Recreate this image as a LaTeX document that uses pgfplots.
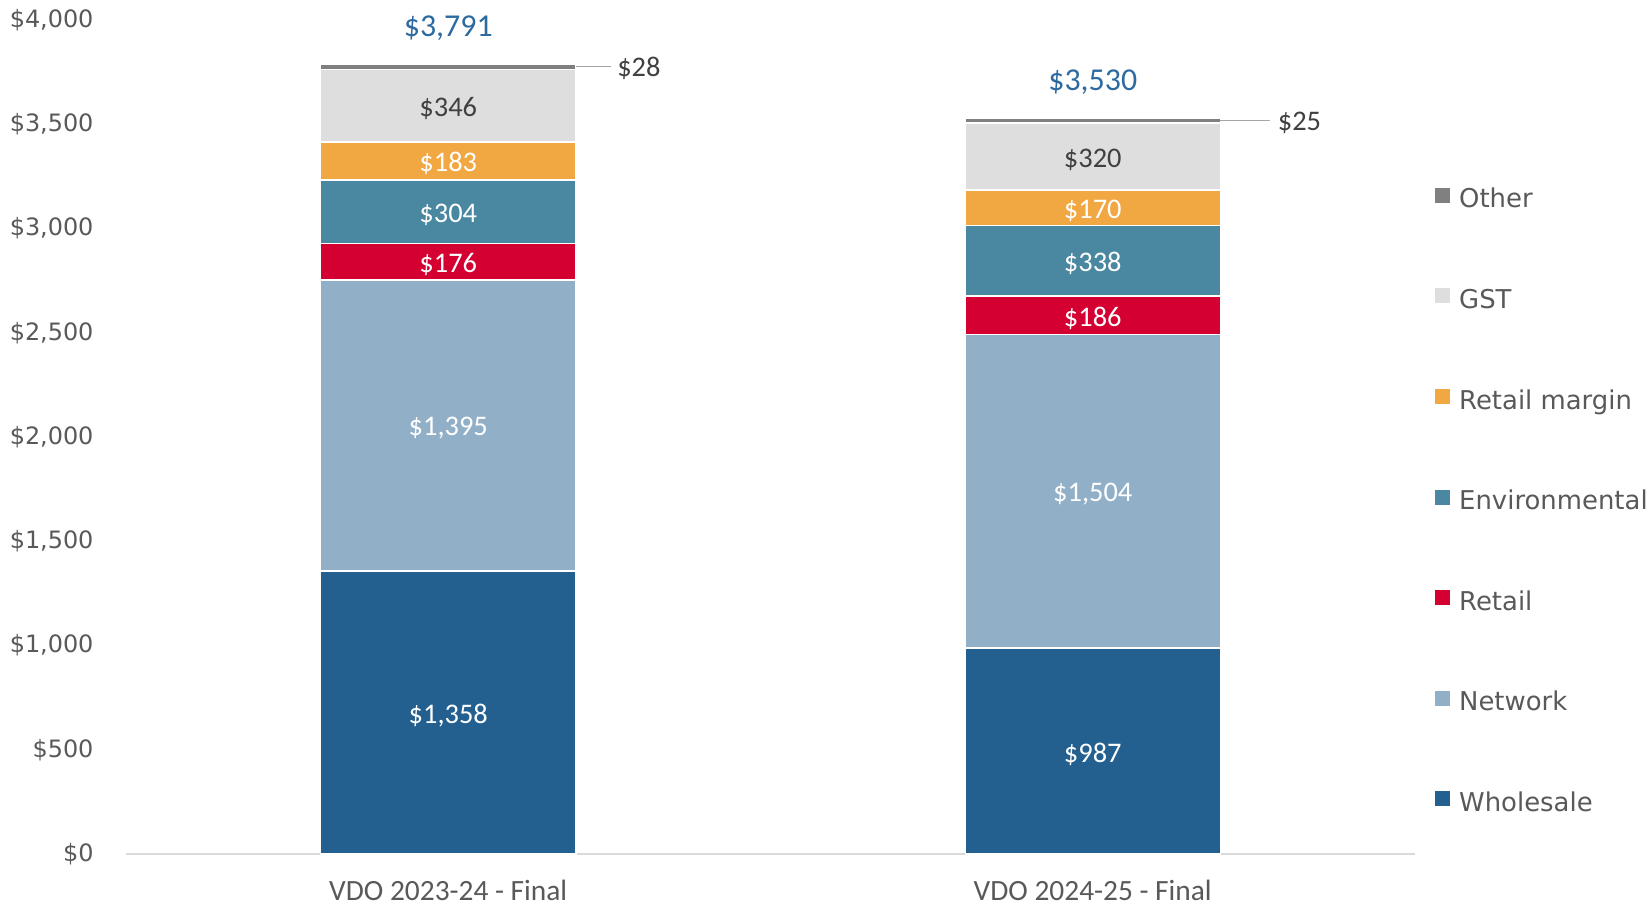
\documentclass[border=0pt]{standalone}
\usepackage{pgfplots}
\usepackage{pgfplotstable}
\pgfplotsset{compat=1.18}
\usepackage{fontspec}
\setmainfont{Carlito}
\newfontfamily\dejavu{DejaVu Sans}
\definecolor{cW}{HTML}{23608F}
\definecolor{cN}{HTML}{92AFC8}
\definecolor{cR}{HTML}{D50032}
\definecolor{cE}{HTML}{4A87A0}
\definecolor{cM}{HTML}{F2A842}
\definecolor{cG}{HTML}{DEDEDE}
\definecolor{cO}{HTML}{808080}
\definecolor{cT}{HTML}{2D6A9F}
\definecolor{txt}{HTML}{595959}
\definecolor{dark}{HTML}{404040}
\pgfplotsset{
  sq/.style={legend image code/.code={\fill[##1,draw=none] (0bp,-2bp) rectangle (15bp,13bp);}},
  common/.style={width=1289bp,height=834bp,scale only axis,xmin=-0.5,xmax=1.5,ymin=0,ymax=4000,enlargelimits=false},
  lbl/.style={draw=none, mark=none, point meta=explicit,
    nodes near coords={\$\pgfmathprintnumber[fixed,precision=0,1000 sep={,},assume math mode=true]{\pgfplotspointmeta}}},
}
\pgfplotstableread{
x W N R E M G O
0 1358 1395 176 304 183 346 28
1 987 1504 186 338 170 320 25
}\costs
\pgfplotstableread{
x y v
0 679 1358
0 2055.5 1395
0 2841 176
0 3081 304
0 3324.5 183
1 493.5 987
1 1739 1504
1 2584 186
1 2846 338
1 3100 170
}\whitelabels
\pgfplotstableread{
x y v
0 3589 346
1 3345 320
}\gstlabels
\pgfplotstableread{
x y v
0.262 3766 28
1.287 3507 25
}\otherlabels
\pgfplotstableread{
x y v
0 3961 3791
1 3700 3530
}\totallabels
\begin{document}
\begin{tikzpicture}
\begin{axis}[common,
  ybar stacked, bar width=255bp,
  axis x line*=bottom, axis y line*=left,
  x axis line style={draw=black!15,line width=1.2bp,-},
  y axis line style={draw=none},
  major tick length=0pt,
  xtick={0,1}, xticklabels={VDO 2023-24 - Final, VDO 2024-25 - Final},
  xticklabel style={font=\fontsize{29.5}{29.5}\selectfont, text=txt, yshift=-23bp},
  ytick={0,500,...,4000},
  yticklabel={\$\pgfmathprintnumber[assume math mode=true,1000 sep={,},fixed,precision=0]{\tick}},
  yticklabel style={font=\dejavu\fontsize{24}{24}\selectfont, text=txt, xshift=-29bp},
  legend style={draw=none, fill=none, at={(axis description cs:1.0155,0.799)}, anchor=north west,
    inner sep=0pt, row sep=74.6bp, column sep=9bp, font=\dejavu\fontsize{26}{26}\selectfont, text=txt,
    nodes={inner sep=0pt, text height=20bp, text depth=6bp}, cells={anchor=west}},
  reverse legend,
]
\addplot[fill=cW, draw=white, line width=1.5bp, sq] table[x=x,y=W]{\costs};
\addplot[fill=cN, draw=white, line width=1.5bp, sq] table[x=x,y=N]{\costs};
\addplot[fill=cR, draw=white, line width=1.5bp, sq] table[x=x,y=R]{\costs};
\addplot[fill=cE, draw=white, line width=1.5bp, sq] table[x=x,y=E]{\costs};
\addplot[fill=cM, draw=white, line width=1.5bp, sq] table[x=x,y=M]{\costs};
\addplot[fill=cG, draw=white, line width=1.5bp, sq] table[x=x,y=G]{\costs};
\addplot[fill=cO, draw=white, line width=1.5bp, sq] table[x=x,y=O]{\costs};
\legend{Wholesale,Network,Retail,Environmental,Retail margin,GST,Other}
\end{axis}
\begin{axis}[common, hide axis, clip=false]
\addplot[lbl, every node near coord/.append style={anchor=center, yshift=-3bp, text=white, font=\fontsize{28.5}{28.5}\selectfont}] table[x=x,y=y,meta=v]{\whitelabels};
\addplot[lbl, every node near coord/.append style={anchor=center, yshift=-3bp, text=dark, font=\fontsize{28.5}{28.5}\selectfont}] table[x=x,y=y,meta=v]{\gstlabels};
\addplot[lbl, every node near coord/.append style={anchor=west, inner sep=0pt, text=dark, font=\fontsize{28.5}{28.5}\selectfont}] table[x=x,y=y,meta=v]{\otherlabels};
\addplot[lbl, every node near coord/.append style={anchor=center, text=cT, font=\fontsize{32}{32}\selectfont}] table[x=x,y=y,meta=v]{\totallabels};
\addplot[draw=black!35, line width=1bp, mark=none] coordinates {(0.198,3776) (0.253,3776)};
\addplot[draw=black!35, line width=1bp, mark=none] coordinates {(1.198,3517) (1.2746,3517)};
\end{axis}
\pgfresetboundingbox
\path[use as bounding box] (-126bp,-52bp) rectangle (1526bp,854bp);
\end{tikzpicture}
\end{document}
